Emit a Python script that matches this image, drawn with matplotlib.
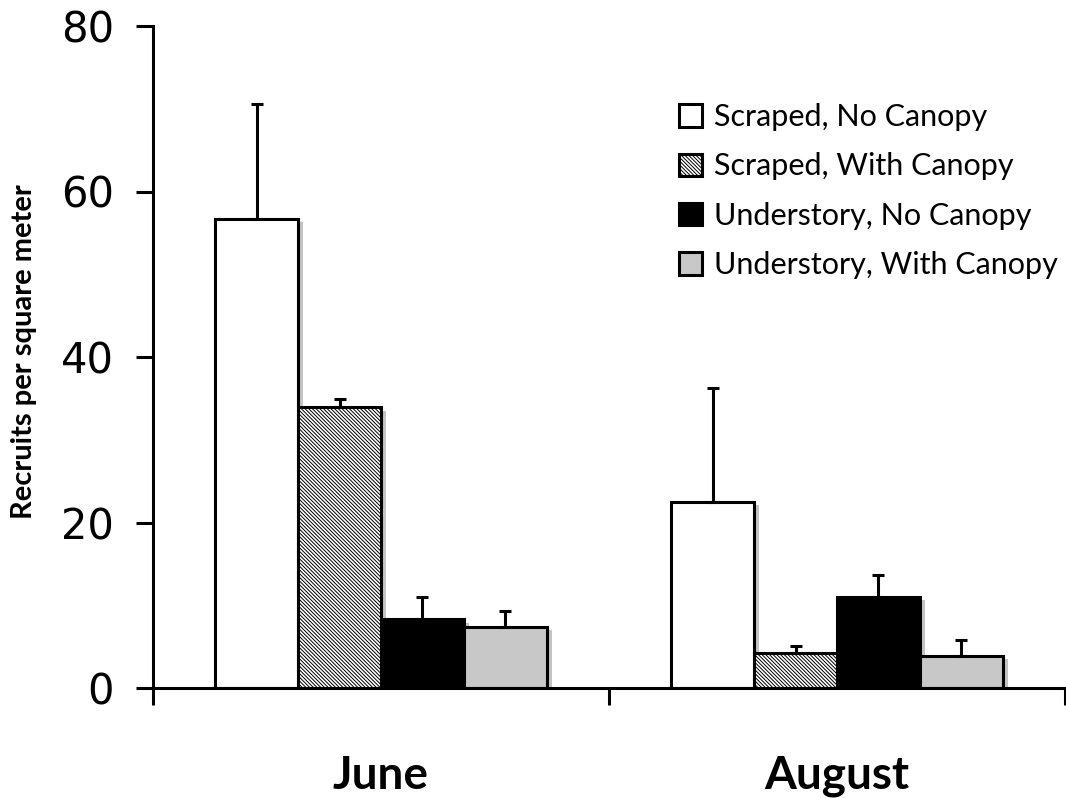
import numpy as np
import matplotlib
matplotlib.use('Agg')
import matplotlib.pyplot as plt
import matplotlib.transforms as mtransforms

# Dados
months = ['June', 'August']
treatments = ['Scraped, No Canopy', 'Scraped, With Canopy',
              'Understory, No Canopy', 'Understory, With Canopy']
means = {
    'Scraped, No Canopy': [56.7, 22.5],
    'Scraped, With Canopy': [33.9, 4.2],
    'Understory, No Canopy': [8.3, 11.0],
    'Understory, With Canopy': [7.4, 3.9],
}
errors = {
    'Scraped, No Canopy': [13.9, 13.8],
    'Scraped, With Canopy': [1.0, 0.9],
    'Understory, No Canopy': [2.7, 2.7],
    'Understory, With Canopy': [1.9, 1.9],
}

faces = ['white', 'white', 'black', '#c8c8c8']
hatches = [None, '\\' * 9, None, None]

plt.rcParams['font.family'] = ['Lato', 'DejaVu Sans']
plt.rcParams['hatch.linewidth'] = 0.7

fig = plt.figure(figsize=(10.66, 7.98), dpi=100)
ax = fig.add_axes([153 / 1066, 1 - 688 / 798, 912 / 1066, 662 / 798])

centers = np.array([0.5, 1.5])
width = 0.182
shadow_tr = mtransforms.offset_copy(ax.transData, fig=fig, x=3.5, y=-2.5, units='points')

for i, t in enumerate(treatments):
    x = centers + (i - 1.5) * width
    # sombra cinza atrás das barras
    ax.bar(x, means[t], width, color='#c4c4c4', linewidth=0, zorder=1,
           transform=shadow_tr)
    ax.bar(x, means[t], width, color=faces[i], edgecolor='black', linewidth=2.2,
           hatch=hatches[i], zorder=2, label=t)
    ax.errorbar(x, means[t], yerr=[np.zeros(2), errors[t]], fmt='none',
                ecolor='black', elinewidth=2.2, capsize=4.5, capthick=2.2, zorder=3)

ax.set_ylim(0, 80)
ax.set_xlim(0, 2)
ax.set_yticks([0, 20, 40, 60, 80])
ax.set_yticklabels(['0', '20', '40', '60', '80'], fontsize=30, family='DejaVu Sans')
ax.set_xticks([0, 1, 2])
ax.set_xticklabels([])
ax.set_xticks(centers, minor=True)
ax.set_xticklabels(months, minor=True, fontsize=33, fontweight='bold')
ax.tick_params(axis='x', which='minor', length=0, pad=48)
ax.tick_params(axis='x', which='major', length=12, width=2.2, direction='out')
ax.tick_params(axis='y', length=12, width=2.2, direction='out', pad=16)

for s in ['top', 'right']:
    ax.spines[s].set_visible(False)
for s in ['left', 'bottom']:
    ax.spines[s].set_linewidth(2.2)
    ax.spines[s].set_zorder(4)

ax.set_ylabel('Recruits per square meter', fontsize=21, fontweight='bold')
ax.yaxis.set_label_coords(-0.127, 0.508)

ax.legend(loc='upper left', bbox_to_anchor=(679 / 1066, 1 - 103 / 798),
          bbox_transform=fig.transFigure, frameon=False, fontsize=22,
          handlelength=0.75, handleheight=0.75, handletextpad=0.4,
          labelspacing=0.7, borderpad=0, borderaxespad=0)

plt.savefig('out.png', dpi=100)
plt.close()
